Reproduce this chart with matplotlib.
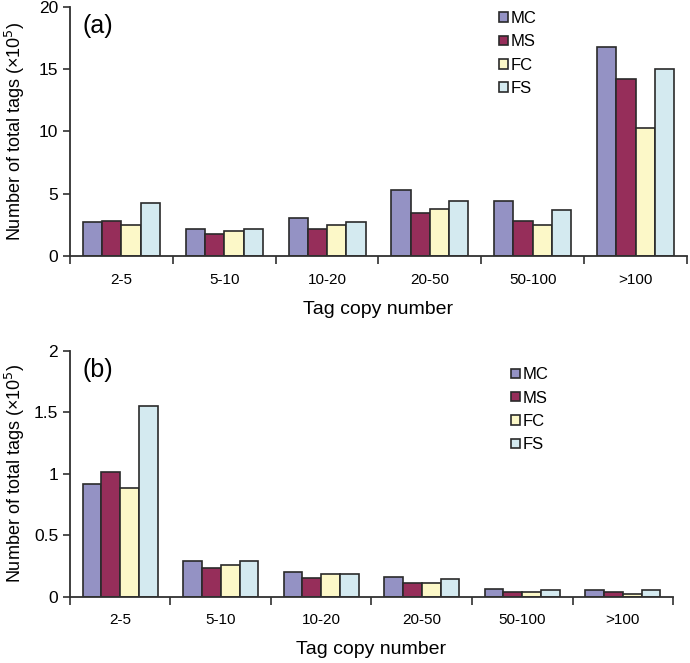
import numpy as np
import matplotlib.pyplot as plt

plt.rcParams['font.family'] = ['Liberation Sans', 'DejaVu Sans']

categories = ['2-5', '5-10', '10-20', '20-50', '50-100', '>100']
series = ['MC', 'MS', 'FC', 'FS']
colors = ['#9492C4', '#962E5A', '#FCF8C8', '#D4EAF0']

# panel (a), x10^5 tags
a_mc = [2.75, 2.20, 3.03, 5.28, 4.42, 16.81]
a_ms = [2.84, 1.77, 2.20, 3.48, 2.84, 14.19]
a_fc = [2.49, 1.98, 2.49, 3.78, 2.49, 10.26]
a_fs = [4.23, 2.20, 2.75, 4.42, 3.67, 15.02]

# panel (b), x10^5 tags
b_mc = [0.92, 0.287, 0.20, 0.157, 0.063, 0.052]
b_ms = [1.016, 0.233, 0.149, 0.114, 0.038, 0.041]
b_fc = [0.88, 0.255, 0.187, 0.114, 0.038, 0.020]
b_fs = [1.55, 0.287, 0.187, 0.146, 0.052, 0.052]

fig = plt.figure(figsize=(6.9, 6.63), dpi=100)
ax_a = fig.add_axes([0.1014, 0.6139, 0.8943, 0.3756])
ax_b = fig.add_axes([0.1014, 0.1000, 0.8740, 0.3710])


def draw(ax, data, ylim, yticks, yticklabels, tag, leg_anchor):
    x = np.arange(len(categories))
    w = 0.1875
    for i, (vals, name, c) in enumerate(zip(data, series, colors)):
        ax.bar(x - 1.5 * w + i * w, vals, width=w, color=c, edgecolor='#2a2a2a',
               linewidth=1.2, label=name)
    ax.set_xlim(-0.5, len(categories) - 0.5)
    ax.set_ylim(*ylim)
    ax.set_yticks(yticks)
    ax.set_yticklabels(yticklabels, fontsize=12.5)
    ax.set_xticks(x)
    ax.set_xticklabels(categories, fontsize=11)
    ax.set_xticks(np.arange(len(categories) + 1) - 0.5, minor=True)
    ax.tick_params(axis='x', which='major', length=0, pad=12)
    ax.tick_params(axis='x', which='minor', length=6, width=1.2, color='#303030')
    ax.tick_params(axis='y', length=5, width=1.2, color='#303030')
    for s in ['top', 'right']:
        ax.spines[s].set_visible(False)
    for s in ['left', 'bottom']:
        ax.spines[s].set_linewidth(1.3)
        ax.spines[s].set_color('#303030')
    ax.set_xlabel('Tag copy number', fontsize=14, labelpad=10)
    ax.set_ylabel('Number of total tags (×10$^5$)', fontsize=13)
    # keep both y labels at the same distance from the figure edge
    ax.yaxis.set_label_coords(-43 / (ax.get_position().width * 690), 0.5)
    ax.text(0.02, 0.97, tag, transform=ax.transAxes, fontsize=18, va='top', ha='left')
    ax.legend(loc='upper left', bbox_to_anchor=leg_anchor, frameon=False,
              fontsize=12, handlelength=0.55, handleheight=0.5, handletextpad=0.15,
              labelspacing=0.5, borderaxespad=0)


draw(ax_a, [a_mc, a_ms, a_fc, a_fs], (0, 20), [0, 5, 10, 15, 20],
     ['0', '5', '10', '15', '20'], '(a)', (0.685, 1.01))
draw(ax_b, [b_mc, b_ms, b_fc, b_fs], (0, 2), [0, 0.5, 1, 1.5, 2],
     ['0', '0.5', '1', '1.5', '2'], '(b)', (0.72, 0.96))

fig.savefig('out.png', dpi=100)
